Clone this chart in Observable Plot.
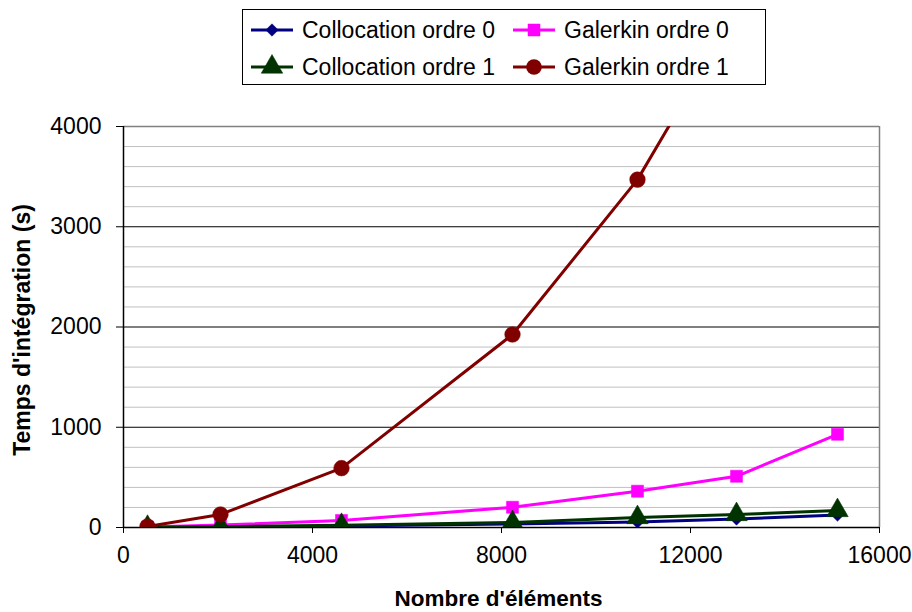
<!DOCTYPE html>
<html>
<head>
<meta charset="utf-8">
<script src="https://cdn.jsdelivr.net/npm/d3@7"></script>
<script src="https://cdn.jsdelivr.net/npm/@observablehq/plot@0.6"></script>
<style>
  html, body { margin: 0; padding: 0; background: #fff; }
  #wrap { position: relative; width: 912px; height: 612px; font-family: "Liberation Sans", Arial, sans-serif; }
  #legend { position: absolute; left: 0; top: 0; pointer-events: none; }
</style>
</head>
<body>
<div id="wrap"></div>
<script>
// ---- Data ----
const elements = [508, 2053, 4614, 8233, 10878, 12974, 15111];
const collocation0 = [2, 5, 15, 35, 55, 85, 125];
const galerkin0 = [5, 25, 70, 202, 362, 511, 930];
const collocation1 = [3, 8, 22, 50, 100, 130, 170];
const galerkin1 = [10, 130, 592, 1925, 3470, 5150, 7500];
const seriesNames = ["Collocation ordre 0", "Galerkin ordre 0", "Collocation ordre 1", "Galerkin ordre 1"];
const xTicks = [0, 4000, 8000, 12000, 16000];
const yTicks = [0, 1000, 2000, 3000, 4000];
const xTitle = "Nombre d'éléments";
const yTitle = "Temps d'intégration (s)";

// ---- Styles ----
const seriesValues = [collocation0, galerkin0, collocation1, galerkin1];
const colors = ["#000080", "#FF00FF", "#003300", "#800000"];
const symbols = ["diamond2", "square", "triangle", "circle"];
const radii = [5.6, 6.8, 8, 7.8];
const d3Symbols = [d3.symbolDiamond2, d3.symbolSquare, d3.symbolTriangle, d3.symbolCircle];
const lineW = 3;

const series = seriesValues.map((vals, i) =>
  elements.map((x, j) => ({x, y: vals[j], name: seriesNames[i]}))
);

const minorY = d3.range(200, 4000, 200).filter(v => v % 1000 !== 0);
const majorY = yTicks.filter(v => v > 0 && v < 4000);

const marks = [
  Plot.gridY(minorY, {stroke: "#c0c0c0", strokeOpacity: 1, strokeWidth: 1}),
  Plot.gridY(majorY, {stroke: "#000", strokeOpacity: 1, strokeWidth: 1}),
  Plot.ruleY([4000], {stroke: "#808080", strokeWidth: 1.5}),
  Plot.ruleX([16000], {stroke: "#808080", strokeWidth: 1.5}),
  Plot.axisY({ticks: yTicks, tickSize: 7, tickPadding: 15, label: null, fontSize: 23, stroke: "#000", tickFormat: d => String(d)}),
  Plot.axisX({ticks: xTicks, tickSize: 6, tickPadding: 13, label: null, fontSize: 23, stroke: "#000", tickFormat: d => String(d)}),
  Plot.ruleX([0], {stroke: "#000", strokeWidth: 1.5}),
  Plot.ruleY([0], {stroke: "#000", strokeWidth: 1.5}),
];

series.forEach((data, i) => {
  marks.push(Plot.line(data, {x: "x", y: "y", stroke: colors[i], strokeWidth: lineW, clip: true}));
  marks.push(Plot.dot(data, {x: "x", y: "y", symbol: () => symbols[i], r: radii[i], fill: colors[i], stroke: colors[i], strokeWidth: 0.5, clip: true}));
});

marks.push(Plot.text([xTitle], {text: d => d, frameAnchor: "bottom", dx: -3, dy: 71, textAnchor: "middle", lineAnchor: "middle", fontWeight: "bold", fontSize: 22.5}));
marks.push(Plot.text([yTitle], {text: d => d, frameAnchor: "left", dx: -101, dy: 3, textAnchor: "middle", rotate: -90, lineAnchor: "middle", fontWeight: "bold", fontSize: 23}));

const chart = Plot.plot({
  width: 912,
  height: 612,
  marginLeft: 123,
  marginRight: 33,
  marginTop: 126,
  marginBottom: 85,
  style: {fontFamily: "'Liberation Sans', Arial, sans-serif", fontSize: "23px", color: "#000", background: "#fff", overflow: "visible"},
  x: {domain: [0, 16000]},
  y: {domain: [0, 4000]},
  marks
});
document.getElementById("wrap").appendChild(chart);

// ---- Legend ----
const svg = d3.select("#wrap").append("svg")
  .attr("id", "legend").attr("width", 912).attr("height", 100)
  .style("font-family", "'Liberation Sans', Arial, sans-serif");
svg.append("rect").attr("x", 242.5).attr("y", 9.5).attr("width", 523).attr("height", 75)
  .attr("fill", "#fff").attr("stroke", "#000").attr("stroke-width", 1);
const itemPos = [[272, 30], [534, 30], [272, 67], [534, 67]];
seriesNames.forEach((name, i) => {
  const [cx, cy] = itemPos[i];
  const g = svg.append("g");
  g.append("line").attr("x1", cx - 21).attr("x2", cx + 21).attr("y1", cy).attr("y2", cy)
    .attr("stroke", colors[i]).attr("stroke-width", lineW);
  if (symbols[i] === "circle") {
    g.append("circle").attr("cx", cx).attr("cy", cy).attr("r", radii[i]).attr("fill", colors[i]);
  } else {
    g.append("path").attr("transform", `translate(${cx},${cy})`)
      .attr("d", d3.symbol(d3Symbols[i], Math.PI * radii[i] * radii[i])())
      .attr("fill", colors[i]).attr("stroke", colors[i]).attr("stroke-width", 0.5);
  }
  g.append("text").attr("x", cx + 30).attr("y", cy).attr("dy", "0.36em")
    .attr("font-size", 23).attr("fill", "#000").text(name);
});
</script>
</body>
</html>
